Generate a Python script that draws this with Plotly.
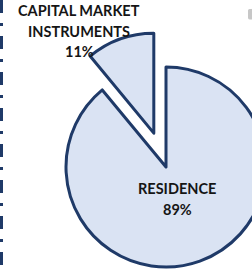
import plotly.graph_objects as go

labels = ["RESIDENCE", "CAPITAL MARKET INSTRUMENTS"]
label_lines = [["RESIDENCE"], ["CAPITAL MARKET", "INSTRUMENTS"]]
values = [89, 11]
pulls = [0, 0.36]

W, H = 302, 303
ML, MT = 30, 31
PW, PH = W - ML, H - MT

fig = go.Figure(go.Pie(
    labels=labels, values=values, pull=pulls,
    sort=False, direction="clockwise", rotation=0,
    marker=dict(colors=["#dae3f3", "#dae3f3"], line=dict(color="#1f3a68", width=3)),
    textinfo="none", hoverinfo="label+percent", showlegend=False,
))


def px(x):
    return (x - ML) / PW


def py(y):
    return 1 - (y - MT) / PH


tot = sum(values)
pct = [round(v * 100 / tot) for v in values]
font = dict(family="Lato, 'Open Sans', sans-serif", size=14.5, color="#151515")
label_pos = [(177, 188), (79, 10)]
pitch = 21

for lines, p, (ax, ay) in zip(label_lines, pct, label_pos):
    for i, s in enumerate(lines + [f"{p}%"]):
        fig.add_annotation(x=px(ax), y=py(ay + i * pitch), xref="paper", yref="paper",
                           text=f"<b>{s}</b>", showarrow=False, font=font,
                           xanchor="center", yanchor="middle", align="center")

fig.add_shape(type="line", xref="paper", yref="paper",
              x0=px(1.5), x1=px(1.5), y0=py(0), y1=py(272),
              line=dict(color="#1f3a68", width=3, dash="13px,10px,3px,10px"))

fig.update_layout(width=W, height=H, margin=dict(l=ML, r=0, t=MT, b=0, pad=0),
                  paper_bgcolor="white", plot_bgcolor="white")

fig.write_html("out.html", post_script="document.body.style.margin='0';document.body.style.overflow='hidden';document.documentElement.style.overflow='hidden';")
